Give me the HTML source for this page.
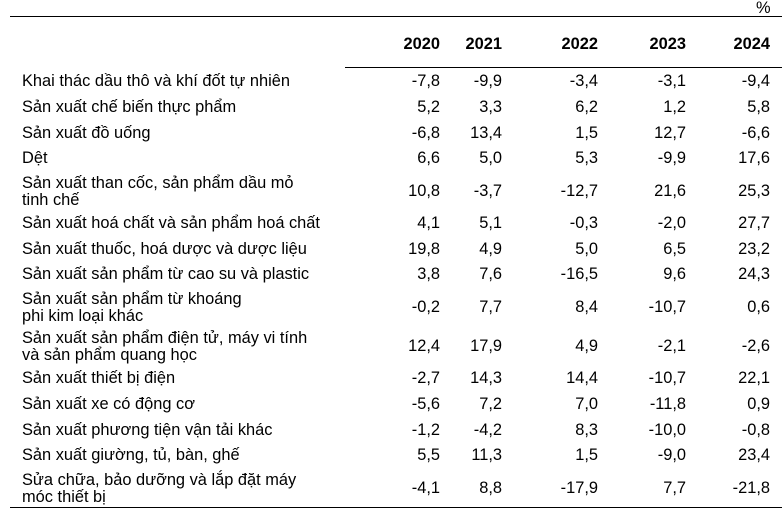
<!DOCTYPE html>
<html><head><meta charset="utf-8"><style>
body{margin:0;width:782px;height:511px;background:#fff;font-family:"Liberation Sans",Arial,sans-serif;font-size:16.4px;color:#000;position:relative;overflow:hidden}
.l{position:absolute;left:22px;line-height:17px;width:340px;white-space:nowrap}
.n{position:absolute;text-align:right;width:60px;line-height:17px}
.h{font-weight:bold}
.hr{position:absolute;height:1px;background:#000}
</style></head><body>
<div style="position:absolute;left:756px;top:0px;line-height:17px">%</div>
<div class="hr" style="left:10px;top:16px;width:772px"></div>
<div class="hr" style="left:345px;top:67px;width:437px"></div>
<div class="hr" style="left:10px;top:507px;width:772px"></div>
<div id="c"></div>
<script>
var X=[440,502,598,686,770];
var hy=36;
var H=["2020","2021","2022","2023","2024"];
var s="";
H.forEach(function(t,i){s+='<div class="n h" style="left:'+(X[i]-60)+'px;top:'+hy+'px">'+t+'</div>';});
var R=[
["Khai thác dầu thô và khí đốt tự nhiên",["-7,8","-9,9","-3,4","-3,1","-9,4"]],
["Sản xuất chế biến thực phẩm",["5,2","3,3","6,2","1,2","5,8"]],
["Sản xuất đồ uống",["-6,8","13,4","1,5","12,7","-6,6"]],
["Dệt",["6,6","5,0","5,3","-9,9","17,6"]],
["Sản xuất than cốc, sản phẩm dầu mỏ<br>tinh chế",["10,8","-3,7","-12,7","21,6","25,3"]],
["Sản xuất hoá chất và sản phẩm hoá chất",["4,1","5,1","-0,3","-2,0","27,7"]],
["Sản xuất thuốc, hoá dược và dược liệu",["19,8","4,9","5,0","6,5","23,2"]],
["Sản xuất sản phẩm từ cao su và plastic",["3,8","7,6","-16,5","9,6","24,3"]],
["Sản xuất sản phẩm từ khoáng<br>phi kim loại khác",["-0,2","7,7","8,4","-10,7","0,6"]],
["Sản xuất sản phẩm điện tử, máy vi tính<br>và sản phẩm quang học",["12,4","17,9","4,9","-2,1","-2,6"]],
["Sản xuất thiết bị điện",["-2,7","14,3","14,4","-10,7","22,1"]],
["Sản xuất xe có động cơ",["-5,6","7,2","7,0","-11,8","0,9"]],
["Sản xuất phương tiện vận tải khác",["-1,2","-4,2","8,3","-10,0","-0,8"]],
["Sản xuất giường, tủ, bàn, ghế",["5,5","11,3","1,5","-9,0","23,4"]],
["Sửa chữa, bảo dưỡng và lắp đặt máy<br>móc thiết bị",["-4,1","8,8","-17,9","7,7","-21,8"]]
];
var y=69;
R.forEach(function(r){
 var d=r[0].indexOf("<br>")>=0;var h=d?39.3:25.6;var c=y+h/2;
 s+='<div class="l" style="top:'+(c-(d?16.5:8.5))+'px">'+r[0]+'</div>';
 r[1].forEach(function(v,i){s+='<div class="n" style="left:'+(X[i]-60)+'px;top:'+(c-8.5)+'px">'+v+'</div>';});
 y+=h;
});
document.getElementById("c").innerHTML=s;
</script>
</body></html>
